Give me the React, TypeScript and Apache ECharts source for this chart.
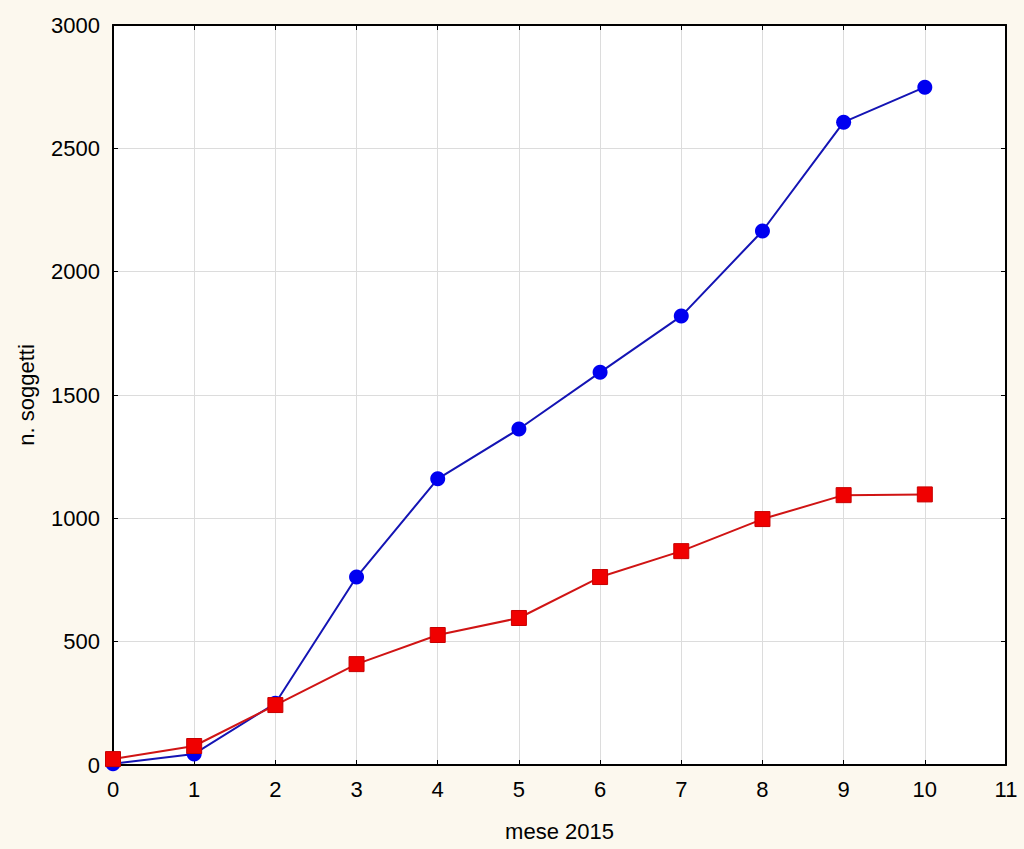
import React, { useEffect, useRef } from "react";
import * as echarts from "echarts";

const months = [0, 1, 2, 3, 4, 5, 6, 7, 8, 9, 10];
const blueValues = [5, 45, 250, 762, 1160, 1362, 1592, 1820, 2165, 2606, 2748];
const redValues = [24, 77, 243, 409, 527, 596, 762, 867, 997, 1094, 1097];

export default function App() {
  const ref = useRef<HTMLDivElement>(null);
  useEffect(() => {
    document.body.style.margin = "0";
    const chart = echarts.init(ref.current!, null, { renderer: "svg" });
    const font = "'Liberation Sans', Arial, sans-serif";
    const tick = { show: true, inside: true, length: 5, lineStyle: { color: "#000", width: 1 } };
    const line = { show: true, onZero: false, lineStyle: { color: "#000", width: 2 } };
    chart.setOption({
      animation: false,
      backgroundColor: "#FCF8EE",
      grid: { left: 113, right: 18, top: 25, bottom: 84, show: true, backgroundColor: "#FFFFFF", borderWidth: 0 },
      xAxis: [
        {
          type: "value", min: 0, max: 11, interval: 1, position: "bottom",
          name: "mese 2015", nameLocation: "middle", nameGap: 55,
          nameTextStyle: { fontFamily: font, fontSize: 22, color: "#000" },
          axisLine: line,
          axisTick: tick,
          axisLabel: { fontFamily: font, fontSize: 22, color: "#000", margin: 13 },
          splitLine: { show: true, lineStyle: { color: "#DCDCDC", width: 1 } },
        },
        {
          type: "value", min: 0, max: 11, interval: 1, position: "top",
          axisLine: line,
          axisTick: tick, axisLabel: { show: false }, splitLine: { show: false },
        },
      ],
      yAxis: [
        {
          type: "value", min: 0, max: 3000, interval: 500, position: "left",
          name: "n. soggetti", nameLocation: "middle", nameGap: 76,
          nameTextStyle: { fontFamily: font, fontSize: 22, color: "#000" },
          axisLine: line,
          axisTick: tick,
          axisLabel: { fontFamily: font, fontSize: 22, color: "#000", margin: 13, formatter: (v: number) => String(v) },
          splitLine: { show: true, lineStyle: { color: "#DCDCDC", width: 1 } },
        },
        {
          type: "value", min: 0, max: 3000, interval: 500, position: "right",
          axisLine: line,
          axisTick: tick, axisLabel: { show: false }, splitLine: { show: false },
        },
      ],
      series: [
        {
          type: "line",
          data: months.map((m, i) => [m, blueValues[i]]),
          symbol: "circle", symbolSize: 15,
          lineStyle: { color: "#1414B4", width: 2 },
          itemStyle: { color: "#0000F0", borderWidth: 0 },
          z: 3,
        },
        {
          type: "line",
          data: months.map((m, i) => [m, redValues[i]]),
          symbol: "rect", symbolSize: 15,
          lineStyle: { color: "#D01414", width: 2 },
          itemStyle: { color: "#F00000", borderColor: "#C80000", borderWidth: 1 },
          z: 4,
        },
      ],
    });
    return () => chart.dispose();
  }, []);
  return <div ref={ref} style={{ position: "absolute", left: 0, top: 0, width: 1024, height: 849 }} />;
}
